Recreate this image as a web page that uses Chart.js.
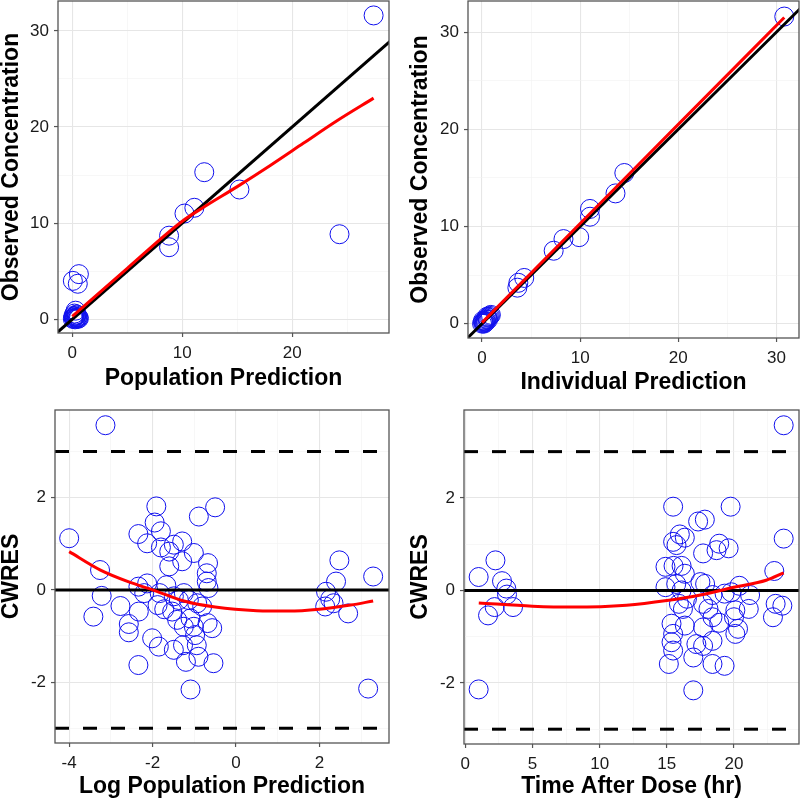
<!DOCTYPE html>
<html>
<head>
<meta charset="utf-8">
<script src="https://cdn.jsdelivr.net/npm/chart.js@4.4.1/dist/chart.umd.min.js"></script>
<style>
  body { margin: 0; background: #fff; }
  #grid { position: relative; width: 800px; height: 800px; }
  .cell { position: absolute; width: 400px; height: 400px; }
</style>
</head>
<body>
<div id="grid">
  <div class="cell" style="left:0;top:0"><canvas id="p1" width="400" height="400"></canvas></div>
  <div class="cell" style="left:400px;top:0"><canvas id="p2" width="400" height="400"></canvas></div>
  <div class="cell" style="left:0;top:400px"><canvas id="p3" width="400" height="400"></canvas></div>
  <div class="cell" style="left:400px;top:400px"><canvas id="p4" width="400" height="400"></canvas></div>
</div>
<script>
// ---- data ----
// panel 1: observed vs population prediction
const popPred = [27.4, 24.3, 12.0, 15.2, 11.1, 10.2, 8.8, 8.8, 0.6, 0.05, 0.5,
  0.05, 0.1, 0.15, 0.2, 0.25, 0.3, 0.35, 0.4, 0.45, 0.5, 0.55, 0.6, 0.3, 0.2, 0.4, 0.1];
const popObs = [31.6, 8.85, 15.3, 13.5, 11.6, 11.0, 8.7, 7.5, 4.7, 4.0, 3.7,
  0.05, 0.2, 0.1, 0.3, 0.0, 0.15, 0.4, 0.1, 0.25, 0.05, 0.2, 0.1, 0.9, 0.6, 0.5, 0.35];
const popLoessX = [0, 5, 10, 12, 15, 18, 21, 24, 27.4];
const popLoessY = [0.3, 5.3, 10.2, 11.7, 13.8, 16.0, 18.3, 20.6, 23.0];

// panel 2: observed vs individual prediction
const indPred = [30.8, 14.5, 13.6, 11.0, 11.0, 9.9, 8.3, 7.3, 4.3, 3.7, 3.6,
  0.0, 0.1, 0.2, 0.3, 0.4, 0.5, 0.6, 0.7, 0.8, 0.2, 0.4, 0.6, 0.1, 0.3, 0.5, 0.9];
const indObs = [31.6, 15.5, 13.4, 11.8, 11.0, 8.9, 8.7, 7.5, 4.7, 4.2, 3.7,
  0.0, 0.1, 0.2, 0.3, 0.4, 0.5, 0.6, 0.7, 0.8, 0.0, 0.2, 0.4, 0.3, 0.1, 0.7, 0.9];
const indLoessX = [0, 10, 20, 30.8];
const indLoessY = [0.1, 10.3, 20.5, 31.5];

// panel 3: CWRES vs log population prediction
const logPred = [-3.13, -4.0, -3.26, -3.22, -3.42, -2.77, -2.57, -2.57, -2.34, -2.34,
  -1.95, -1.91, -1.8, -2.13, -1.8, -1.49, -1.6, -1.29, -1.01, -1.29,
  -1.6, -0.67, -0.7, -0.7, -0.66, -0.89, -0.5, -2.34, -2.13, -2.2,
  -2.33, -1.83, -1.67, -1.88, -1.72, -1.49, -1.53, -1.37, -1.25, -1.13,
  -0.93, -0.81, -1.41, -1.25, -1.09, -1.01, -0.57, -0.68, -2.01, -1.85,
  -1.49, -1.27, -0.98, -0.94, -0.9, -1.2, -0.54, -1.09, 3.17, 3.29,
  2.48, 2.4, 2.16, 2.14, 2.34, 2.69, 2.26];
const cwres3 = [3.57, 1.12, 0.43, -0.13, -0.58, -0.35, -0.74, -0.92, -1.63, 1.21,
  1.46, 1.81, 1.27, 1.01, 0.92, 0.98, 0.83, 1.05, 0.8, 0.62,
  0.51, 0.58, 0.36, 0.18, 0.04, 1.59, 1.79, 0.07, 0.14, -0.07,
  -0.47, -0.07, 0.1, -0.33, -0.42, -0.14, -0.47, -0.22, -0.07, -0.22,
  -0.29, -0.36, -0.65, -0.8, -0.62, -0.8, -0.83, -0.72, -1.05, -1.23,
  -1.3, -1.2, -0.98, -1.2, -1.45, -1.56, -1.59, -2.16, -2.14, 0.29,
  0.64, 0.18, -0.04, -0.36, -0.29, -0.51, -0.2];
const logLoessX = [-4.0, -3.25, -2.5, -2.0, -1.25, -0.5, 0.5, 1.25, 2.0, 2.75, 3.29];
const logLoessY = [0.83, 0.43, 0.15, 0.0, -0.24, -0.37, -0.45, -0.46, -0.42, -0.33, -0.24];

// panel 4: CWRES vs time after dose
const tad = [23.7, 23.7, 23.0, 23.1, 23.6, 22.9, 0.99, 0.99, 2.24, 2.73,
  3.05, 3.1, 3.55, 2.18, 1.69, 15.47, 15.47, 15.72, 15.97, 16.34,
  14.9, 15.5, 16.1, 16.34, 14.9, 15.7, 16.1, 16.5, 15.9, 16.2,
  15.35, 15.47, 15.35, 15.47, 15.15, 16.34, 17.33, 17.83, 19.75, 17.7,
  18.7, 18.9, 19.6, 17.5, 17.85, 18.4, 17.7, 18.1, 18.4, 18.9,
  17.7, 17.2, 17.7, 18.4, 16.97, 18.4, 19.3, 16.97, 19.8, 20.4,
  21.2, 21.1, 20.1, 20.0, 20.3, 20.1, 19.3];
const cwres4 = [3.57, 1.12, 0.42, -0.29, -0.33, -0.58, 0.29, -2.14, 0.65, 0.2,
  0.04, -0.09, -0.36, -0.36, -0.54, 1.81, 1.05, 0.98, 1.21, 1.14,
  0.51, 0.53, 0.53, 0.36, 0.07, 0.14, 0.0, -0.18, -0.29, -0.4,
  -0.72, -0.94, -1.12, -1.3, -1.59, -0.76, 1.49, 1.53, 1.81, 0.8,
  0.87, 1.01, 0.91, 0.18, 0.14, -0.1, -0.29, -0.4, -0.58, -0.7,
  -0.8, -1.16, -1.2, -1.09, -1.45, -1.59, -1.63, -2.16, -0.04, 0.1,
  -0.1, -0.4, -0.43, -0.58, -0.83, -0.94, -0.07];
const tadLoessX = [1, 5, 8, 12, 15, 17.5, 20, 22.4, 23.7];
const tadLoessY = [-0.27, -0.34, -0.36, -0.32, -0.22, -0.1, 0.07, 0.22, 0.38];

const FONT = 'Liberation Sans, Arial, Helvetica, sans-serif';

const pts = (xs, ys) => xs.map((x, i) => ({ x: x, y: ys[i] }));
const isMajor = (v, major) => Math.abs(v / major - Math.round(v / major)) < 1e-6;

// ggplot-style box round the panel
const panelBorder = {
  id: 'panelBorder',
  afterDraw(chart) {
    const { ctx, chartArea: a } = chart;
    ctx.save();
    ctx.strokeStyle = '#555';
    ctx.lineWidth = 1.3;
    ctx.strokeRect(a.left, a.top, a.right - a.left, a.bottom - a.top);
    ctx.restore();
  }
};

function axis(o, isX, area) {
  return {
    type: 'linear',
    position: isX ? 'bottom' : 'left',
    min: o.min,
    max: o.max,
    afterFit(s) {
      if (isX) { s.height = 400 - area.bottom; s.paddingLeft = 0; s.paddingRight = 0; }
      else { s.width = area.left; s.paddingTop = 0; s.paddingBottom = 0; }
    },
    border: { display: false },
    grid: {
      color: c => isMajor(c.tick.value, o.major) ? '#e6e6e6' : '#f1f1f1',
      lineWidth: c => isMajor(c.tick.value, o.major) ? 1.1 : 0.6,
      tickColor: c => isMajor(c.tick.value, o.major) ? '#555' : 'rgba(0,0,0,0)',
      tickLength: 4,
      tickWidth: 1.2
    },
    ticks: {
      stepSize: o.major / 2,
      includeBounds: false,
      autoSkip: false,
      maxRotation: 0,
      padding: isX ? 6 : 5,
      color: '#1a1a1a',
      font: { family: FONT, size: 17 },
      callback: v => isMajor(v, o.major) ? String(Math.round(v)) : ''
    },
    title: {
      display: true,
      text: o.title,
      color: '#000',
      font: { family: FONT, size: 23, weight: 'bold', lineHeight: 1 },
      padding: { top: o.tpad, bottom: o.tpad }
    }
  };
}

function circles(xs, ys) {
  return {
    data: pts(xs, ys), showLine: false,
    pointRadius: 9.5, pointHoverRadius: 9.5, pointBorderWidth: 1,
    pointBorderColor: '#1010ee', pointBackgroundColor: 'rgba(0,0,0,0)'
  };
}

function line(xs, ys, color, dash, smooth) {
  return {
    data: pts(xs, ys), showLine: true, pointRadius: 0,
    borderColor: color, borderWidth: 3, borderDash: dash || [],
    cubicInterpolationMode: smooth ? 'monotone' : 'default', tension: 0
  };
}

function panel(id, area, xo, yo, datasets) {
  new Chart(document.getElementById(id), {
    type: 'scatter',
    data: { datasets: datasets },
    options: {
      responsive: false,
      animation: false,
      devicePixelRatio: 1,
      layout: { autoPadding: false, padding: { left: 0, top: area.top, right: 400 - area.right, bottom: 0 } },
      plugins: { legend: { display: false }, tooltip: { enabled: false } },
      scales: { x: axis(xo, true, area), y: axis(yo, false, area) }
    },
    plugins: [panelBorder]
  });
}

panel('p1', { left: 58, right: 389, top: 1, bottom: 333 },
  { min: -1.3, max: 28.8, major: 10, title: 'Population Prediction', tpad: 9.5 },
  { min: -1.42, max: 33.1, major: 10, title: 'Observed Concentration', tpad: 0 },
  [line(popLoessX, popLoessY, '#ff0000', null, true),
   line([-5, 40], [-5, 40], '#000'),
   circles(popPred, popObs)]);

panel('p2', { left: 68, right: 399, top: 1, bottom: 338 },
  { min: -1.43, max: 32.3, major: 10, title: 'Individual Prediction', tpad: 6 },
  { min: -1.48, max: 33.2, major: 10, title: 'Observed Concentration', tpad: 9.5 },
  [line(indLoessX, indLoessY, '#ff0000', null, true),
   line([-5, 40], [-5, 40], '#000'),
   circles(indPred, indObs)]);

panel('p3', { left: 55, right: 389, top: 10, bottom: 343 },
  { min: -4.34, max: 3.67, major: 2, title: 'Log Population Prediction', tpad: 1.5 },
  { min: -3.32, max: 3.9, major: 2, title: 'CWRES', tpad: 0 },
  [line(logLoessX, logLoessY, '#ff0000', null, true),
   line([-4.34, 3.67], [0, 0], '#000'),
   line([-4.34, 3.67], [3, 3], '#000', [14, 14]),
   line([-4.34, 3.67], [-3, -3], '#000', [14, 14]),
   circles(logPred, cwres3)]);

panel('p4', { left: 64, right: 399, top: 10, bottom: 344 },
  { min: -0.1, max: 24.84, major: 5, title: 'Time After Dose (hr)', tpad: 1.5 },
  { min: -3.32, max: 3.9, major: 2, title: 'CWRES', tpad: 9.5 },
  [line(tadLoessX, tadLoessY, '#ff0000', null, true),
   line([-0.1, 24.84], [0, 0], '#000'),
   line([-0.1, 24.84], [3, 3], '#000', [14, 14]),
   line([-0.1, 24.84], [-3, -3], '#000', [14, 14]),
   circles(tad, cwres4)]);
</script>
</body>
</html>
